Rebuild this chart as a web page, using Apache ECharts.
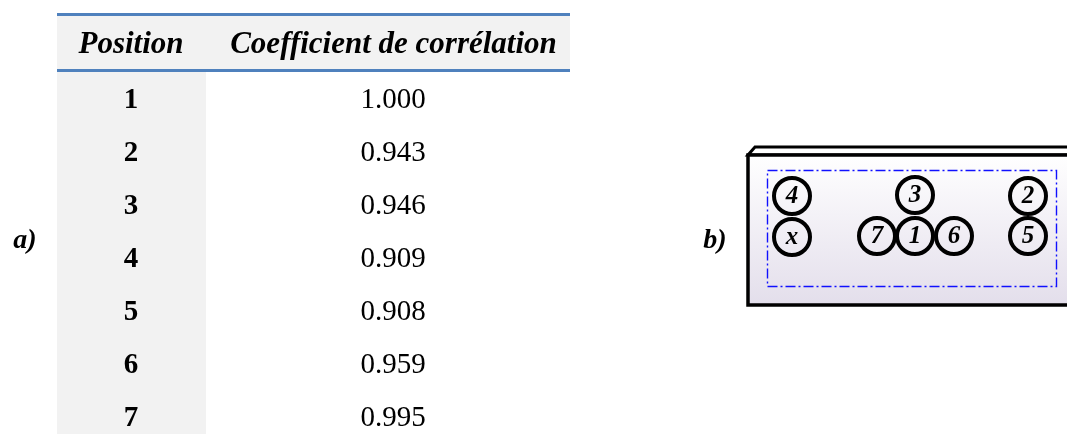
<!DOCTYPE html>
<html><head><meta charset="utf-8">
<script src="https://cdn.jsdelivr.net/npm/echarts@6/dist/echarts.min.js"></script>
<style>html,body{margin:0;padding:0;background:#fff}#c{width:1067px;height:434px}</style>
</head><body><div id="c"></div>
<script>
// ---- data ----
const headers = ['Position', 'Coefficient de corrélation'];
const positions = ['1', '2', '3', '4', '5', '6', '7'];
const coefficients = [1.000, 0.943, 0.946, 0.909, 0.908, 0.959, 0.995];
const sensorLabels = ['4', 'x', '3', '7', '1', '6', '2', '5'];
const sensorX = [25, 25, 148, 110, 148, 187, 261, 261];
const sensorY = [26, 67, 25, 66, 66, 66, 26, 66];
const panelLabels = ['a)', 'b)'];

// ---- styling ----
const SERIF = "'Liberation Serif','Times New Roman',serif";
const BLUE = '#4f81bd';
const GRAY = '#f2f2f2';
const TBL_L = 57, TBL_W = 513;
const COL1_W = 149;
const COL1_C = 74, COL2_C = 336, HDR2_C = 336.5;

const chart = echarts.init(document.getElementById('c'));

const gradient = new echarts.graphic.LinearGradient(0, 0, 0, 1, [
  { offset: 0, color: '#ffffff' },
  { offset: 1, color: '#e3deeb' }
]);

chart.setOption({
  animation: false,
  grid: [
    { left: TBL_L, width: TBL_W, top: 72.5, height: 371, show: false, outerBoundsMode: 'none', containLabel: false },
    { left: 767, width: 290, top: 170, height: 117, show: false, outerBoundsMode: 'none', containLabel: false }
  ],
  xAxis: [
    { gridIndex: 0, type: 'value', min: 0, max: 1, show: false },
    { gridIndex: 1, type: 'value', min: 0, max: 290, show: false }
  ],
  yAxis: [
    { gridIndex: 0, type: 'category', data: positions, inverse: true, show: false },
    { gridIndex: 1, type: 'value', min: 0, max: 117, inverse: true, show: false }
  ],
  graphic: [
    // table decoration
    { type: 'rect', z: 0, shape: { x: TBL_L, y: 14, width: TBL_W, height: 56 }, style: { fill: GRAY } },
    { type: 'rect', z: 0, shape: { x: TBL_L, y: 70, width: COL1_W, height: 364 }, style: { fill: GRAY } },
    { type: 'rect', z: 1, shape: { x: TBL_L, y: 13, width: TBL_W, height: 3 }, style: { fill: BLUE } },
    { type: 'rect', z: 1, shape: { x: TBL_L, y: 69, width: TBL_W, height: 3 }, style: { fill: BLUE } },
    { type: 'text', z: 2, x: TBL_L + COL1_C, y: 45, style: { text: headers[0], font: 'italic bold 31px ' + SERIF, fill: '#000', align: 'center', verticalAlign: 'middle' } },
    { type: 'text', z: 2, x: TBL_L + HDR2_C, y: 45, style: { text: headers[1], font: 'italic bold 31px ' + SERIF, fill: '#000', align: 'center', verticalAlign: 'middle' } },
    { type: 'text', z: 2, x: 25, y: 241, style: { text: panelLabels[0], font: 'italic bold 28px ' + SERIF, fill: '#000', align: 'center', verticalAlign: 'middle' } },
    { type: 'text', z: 2, x: 715, y: 241, style: { text: panelLabels[1], font: 'italic bold 28px ' + SERIF, fill: '#000', align: 'center', verticalAlign: 'middle' } },
    // beam box
    { type: 'polygon', z: 0, shape: { points: [[748, 155], [755, 147], [1075, 147], [1075, 155]] }, style: { fill: '#ffffff', stroke: '#000', lineWidth: 3 } },
    { type: 'rect', z: 0, shape: { x: 748, y: 155, width: 330, height: 150 }, style: { fill: gradient, stroke: '#000', lineWidth: 3.5 } },
    { type: 'rect', z: 1, shape: { x: 767.5, y: 170.5, width: 289, height: 116 }, style: { fill: 'none', stroke: '#1010ff', lineWidth: 1.4, lineDash: [10, 3, 2, 3] } }
  ],
  series: [
    {
      type: 'custom',
      xAxisIndex: 0, yAxisIndex: 0,
      clip: false,
      z: 5,
      encode: { y: 0 },
      data: positions.map((p, i) => [i, coefficients[i]]),
      renderItem: function (params, api) {
        const idx = api.value(0);
        const pt = api.coord([0, idx]);
        const left = params.coordSys.x;
        return {
          type: 'group',
          children: [
            { type: 'text', x: left + COL1_C, y: pt[1] + 1.5, style: { text: positions[idx], font: 'bold 29px ' + SERIF, fill: '#000', align: 'center', verticalAlign: 'middle' } },
            { type: 'text', x: left + COL2_C, y: pt[1] + 1.5, style: { text: api.value(1).toFixed(3), font: '29px ' + SERIF, fill: '#000', align: 'center', verticalAlign: 'middle' } }
          ]
        };
      }
    },
    {
      type: 'scatter',
      xAxisIndex: 1, yAxisIndex: 1,
      z: 10,
      symbol: 'circle',
      symbolSize: 36,
      data: sensorX.map((x, i) => [x, sensorY[i], sensorLabels[i]]),
      itemStyle: { color: 'rgba(0,0,0,0)', borderColor: '#000', borderWidth: 4, opacity: 1 },
      label: {
        show: true, position: 'inside', offset: [0, 1],
        formatter: p => p.value[2],
        fontFamily: SERIF, fontStyle: 'italic', fontWeight: 'bold', fontSize: 25, color: '#000'
      },
      emphasis: { disabled: true }
    }
  ]
});
</script>
</body></html>
